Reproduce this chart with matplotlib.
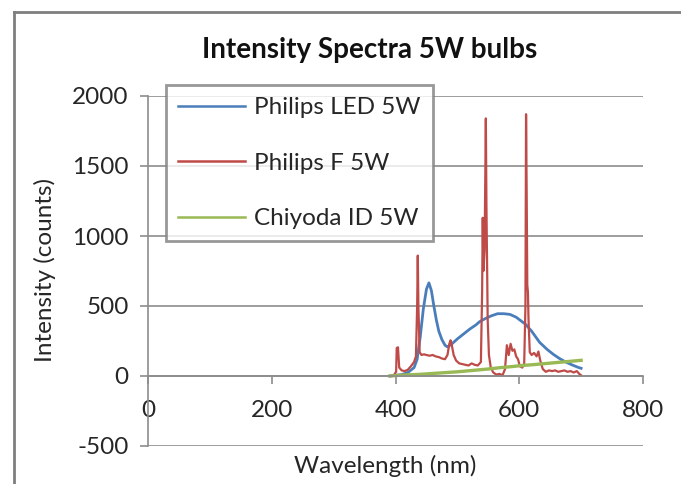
import matplotlib
matplotlib.use("Agg")
import matplotlib.pyplot as plt
from matplotlib.lines import Line2D

plt.rcParams['font.family'] = ['Lato', 'DejaVu Sans']
plt.rcParams['axes.unicode_minus'] = False

# Philips LED 5W
wl_led = [391, 400, 410, 420, 430, 435, 440, 445, 450, 454, 458, 462, 466, 470,
          475, 480, 484, 490, 500, 510, 520, 530, 536, 545, 555, 565, 575, 585,
          595, 601, 610, 620, 633, 645, 655, 665, 675, 685, 695, 700]
int_led = [0, 5, 10, 25, 60, 120, 280, 480, 620, 665, 610, 500, 400, 320,
           260, 220, 208, 225, 265, 300, 335, 365, 388, 410, 430, 445, 445, 440,
           420, 400, 370, 320, 240, 190, 155, 125, 100, 80, 62, 55]

# Philips F 5W
wl_f = [393, 398, 401, 402, 404, 406, 410, 415, 420, 425, 430, 433, 435, 436,
        437, 439, 442, 446, 450, 455, 460, 465, 470, 475, 480, 484, 487, 489,
        491, 494, 498, 503, 508, 513, 518, 523, 528, 533, 538, 540, 541, 542,
        544, 546, 547, 549, 551, 554, 558, 563, 568, 573, 577, 580, 583, 586,
        589, 592, 595, 598, 601, 605, 608, 610, 611, 612, 613, 614, 615, 617,
        620, 624, 628, 631, 634, 638, 643, 648, 653, 658, 663, 668, 673, 678,
        683, 688, 693, 697, 700]
int_f = [0, 10, 30, 200, 205, 60, 40, 35, 45, 70, 100, 140, 500, 860,
         500, 170, 150, 155, 150, 145, 150, 140, 135, 125, 120, 150, 230, 255,
         220, 150, 110, 90, 85, 80, 75, 90, 80, 75, 100, 600, 1130, 750,
         900, 1840, 1200, 400, 150, 60, 25, 10, 15, 5, 50, 220, 150, 230,
         180, 190, 140, 120, 70, 60, 90, 500, 1870, 1300, 650, 600, 400, 170,
         150, 165, 140, 175, 110, 50, 30, 40, 35, 40, 30, 35, 40, 30,
         35, 25, 35, 15, 5]

# Chiyoda ID 5W
wl_id = [391, 400, 410, 420, 430, 440, 450, 460, 470, 480, 490, 500, 510, 520,
         530, 540, 550, 560, 570, 580, 590, 600, 610, 620, 630, 640, 650, 660,
         670, 680, 690, 700]
int_id = [0, 3, 6, 8, 10, 12, 15, 18, 21, 24, 27, 30, 34, 38,
          42, 46, 50, 55, 60, 64, 68, 73, 77, 80, 84, 88, 92, 96,
          100, 104, 108, 112]

fig = plt.figure(figsize=(6.81, 4.84), dpi=100)
ax = fig.add_axes([148 / 681, 1 - 446 / 484, (643 - 148) / 681, (446 - 96) / 484])

ax.plot(wl_led, int_led, color='#4A7EBB', lw=2.0, label='Philips LED 5W')
ax.plot(wl_f, int_f, color='#BE4B48', lw=1.6, label='Philips F 5W')
ax.plot(wl_id, int_id, color='#98B954', lw=2.4, label='Chiyoda ID 5W')

ax.set_xlim(0, 800)
ax.set_ylim(-500, 2000)
ax.set_xticks([0, 200, 400, 600, 800])
ax.set_yticks([-500, 0, 500, 1000, 1500, 2000])
ax.yaxis.grid(True, color='#8C8C8C', lw=1.2)
ax.set_axisbelow(True)

for s in ['top', 'right']:
    ax.spines[s].set_visible(False)
ax.spines['bottom'].set_position(('data', 0))
ax.spines['bottom'].set_color('#8C8C8C')
ax.spines['left'].set_color('#8C8C8C')
ax.spines['bottom'].set_linewidth(1.2)
ax.spines['left'].set_linewidth(1.2)

ax.tick_params(axis='x', direction='out', length=6, width=1.2, color='#8C8C8C',
               labelsize=17.5, pad=11, labelcolor='#262626')
ax.tick_params(axis='y', direction='out', length=6, width=1.2, color='#8C8C8C',
               labelsize=17.5, pad=8, labelcolor='#262626')

ax.set_xlabel('Wavelength (nm)', fontsize=17.5, color='#262626', va='center')
ax.xaxis.set_label_coords(0.48, -0.057)
ax.set_ylabel('Intensity (counts)', fontsize=17.5, color='#262626', va='center')
ax.yaxis.set_label_coords((45 - 148) / 495, (446 - 270) / 350)

fig.text(370 / 681, 1 - 50 / 484, 'Intensity Spectra 5W bulbs', fontsize=20,
         fontweight='bold', ha='center', va='center', color='#111111')

leg = ax.legend(loc='upper left', bbox_to_anchor=((166 - 148) / 495, (446 - 85) / 350),
                fontsize=17.5, frameon=True, fancybox=False, handlelength=2.75,
                labelspacing=1.42, borderpad=0.5, handletextpad=0.37,
                borderaxespad=0)
leg.get_frame().set_edgecolor('#7F7F7F')
leg.get_frame().set_linewidth(2)
for t in leg.get_texts():
    t.set_color('#262626')
for h in leg.get_lines():
    h.set_linewidth(1.8)

# chart area border
fig.add_artist(Line2D([14 / 681, 14 / 681], [0, 1 - 12 / 484], color='#7F7F7F', lw=2))
fig.add_artist(Line2D([14 / 681, 1], [1 - 12 / 484, 1 - 12 / 484], color='#7F7F7F', lw=2))

fig.savefig('out.png', dpi=100)
